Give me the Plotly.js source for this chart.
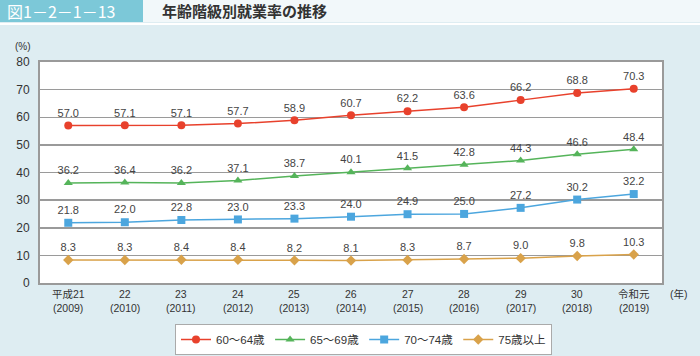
<!DOCTYPE html>
<html><head><meta charset="utf-8">
<script src="https://cdn.plot.ly/plotly-3.0.1.min.js"></script>
<style>body{margin:0;padding:0;background:#deedf2;}#chart{width:700px;height:356px;}</style>
</head><body><div id="chart"></div>
<script>
const categories = ["平成21","22","23","24","25","26","27","28","29","30","令和元"];
const yearsAD = ["(2009)","(2010)","(2011)","(2012)","(2013)","(2014)","(2015)","(2016)","(2017)","(2018)","(2019)"];
const age60_64 = [57.0,57.1,57.1,57.7,58.9,60.7,62.2,63.6,66.2,68.8,70.3];
const age65_69 = [36.2,36.4,36.2,37.1,38.7,40.1,41.5,42.8,44.3,46.6,48.4];
const age70_74 = [21.8,22.0,22.8,23.0,23.3,24.0,24.9,25.0,27.2,30.2,32.2];
const age75plus = [8.3,8.3,8.4,8.4,8.2,8.1,8.3,8.7,9.0,9.8,10.3];
const seriesNames = ["60～64歳","65～69歳","70～74歳","75歳以上"];
const colors = ["#e8412c","#55b45a","#4ca6de","#d9a24a"];
const symbols = ["circle","triangle-up","square","diamond"];
const font = "Liberation Sans, Noto Sans CJK JP, sans-serif";
const jfont = "Noto Sans CJK JP, sans-serif";

const data = [age60_64, age65_69, age70_74, age75plus].map((vals, i) => ({
  x: categories.map((c, j) => j),
  y: vals,
  name: seriesNames[i],
  type: "scatter",
  mode: "lines+markers+text",
  text: vals.map(v => v.toFixed(1)),
  textposition: "top center",
  textfont: {size: 11, color: "#444", family: font},
  line: {color: colors[i], width: 1.5},
  marker: {symbol: symbols[i], size: 8, color: colors[i]},
  cliponaxis: false
}));

const L = 40, R = 662, T = 62, B = 283;
const px = x => (x - L) / (R - L);
const py = y => (B - y) / (B - T);

const tickAnns = [];
categories.forEach((c, j) => {
  tickAnns.push({xref: "x", yref: "paper", x: j, y: py(294), xanchor: "center", yanchor: "middle",
    text: c, showarrow: false, borderpad: 0, font: {size: 10.5, color: "#333", family: font}});
  tickAnns.push({xref: "x", yref: "paper", x: j, y: py(308), xanchor: "center", yanchor: "middle",
    text: yearsAD[j], showarrow: false, borderpad: 0, font: {size: 10.5, color: "#333", family: "Liberation Sans, sans-serif"}});
});

const layout = {
  width: 700, height: 356,
  margin: {l: L, r: 700 - R, t: T, b: 356 - B, autoexpand: false},
  paper_bgcolor: "#deedf2",
  plot_bgcolor: "#ffffff",
  font: {family: font, color: "#333"},
  showlegend: true,
  legend: {
    orientation: "h", x: px(175), xanchor: "left", y: py(324), yanchor: "top",
    bgcolor: "#ffffff", bordercolor: "#aaaaaa", borderwidth: 1,
    font: {size: 11.5, color: "#333", family: font}, itemwidth: 30,
    tracegroupgap: 0
  },
  xaxis: {
    tickmode: "array", tickvals: categories.map((c, j) => j), ticktext: categories.map(() => ""),
    range: [-0.5, 10.5], showgrid: false, zeroline: false,
    showline: true, mirror: true, linecolor: "#9a9a9a", linewidth: 2,
    ticks: "", fixedrange: true
  },
  yaxis: {
    range: [0, 80], dtick: 10, showgrid: true, gridcolor: "#9a9a9a", gridwidth: 1.5,
    zeroline: false, showline: true, mirror: true, linecolor: "#9a9a9a", linewidth: 2,
    ticks: "", tickfont: {size: 12, color: "#333", family: font}, ticklabelstandoff: 6
  },
  shapes: [
    {type: "rect", xref: "paper", yref: "paper", x0: px(143), x1: px(700), y0: py(0), y1: py(22), fillcolor: "#f2f8fa", line: {width: 0}, layer: "below"},
    {type: "rect", xref: "paper", yref: "paper", x0: px(0), x1: px(143), y0: py(0), y1: py(22), fillcolor: "#7cc8d8", line: {width: 0}, layer: "below"},
    {type: "line", xref: "paper", yref: "paper", x0: px(0), x1: px(700), y0: py(24), y1: py(24), line: {color: "#ffffff", width: 2}, layer: "below"}
  ],
  annotations: [
    {xref: "paper", yref: "paper", x: px(5), y: py(11), xanchor: "left", yanchor: "middle", text: "図1－2－1－13", showarrow: false, font: {size: 16, color: "#ffffff", family: jfont}},
    {xref: "paper", yref: "paper", x: px(160), y: py(11), xanchor: "left", yanchor: "middle", text: "<b>年齢階級別就業率の推移</b>", showarrow: false, font: {size: 15, color: "#333", family: jfont}},
    {xref: "paper", yref: "paper", x: px(23), y: py(46), xanchor: "center", yanchor: "middle", text: "(%)", showarrow: false, borderpad: 0, font: {size: 10, color: "#333", family: font}},
    {xref: "paper", yref: "paper", x: px(679), y: py(294), xanchor: "center", yanchor: "middle", text: "(年)", showarrow: false, font: {size: 10.5, color: "#333", family: font}}
  ].concat(tickAnns)
};

Plotly.newPlot("chart", data, layout, {staticPlot: true, displayModeBar: false});
</script></body></html>
